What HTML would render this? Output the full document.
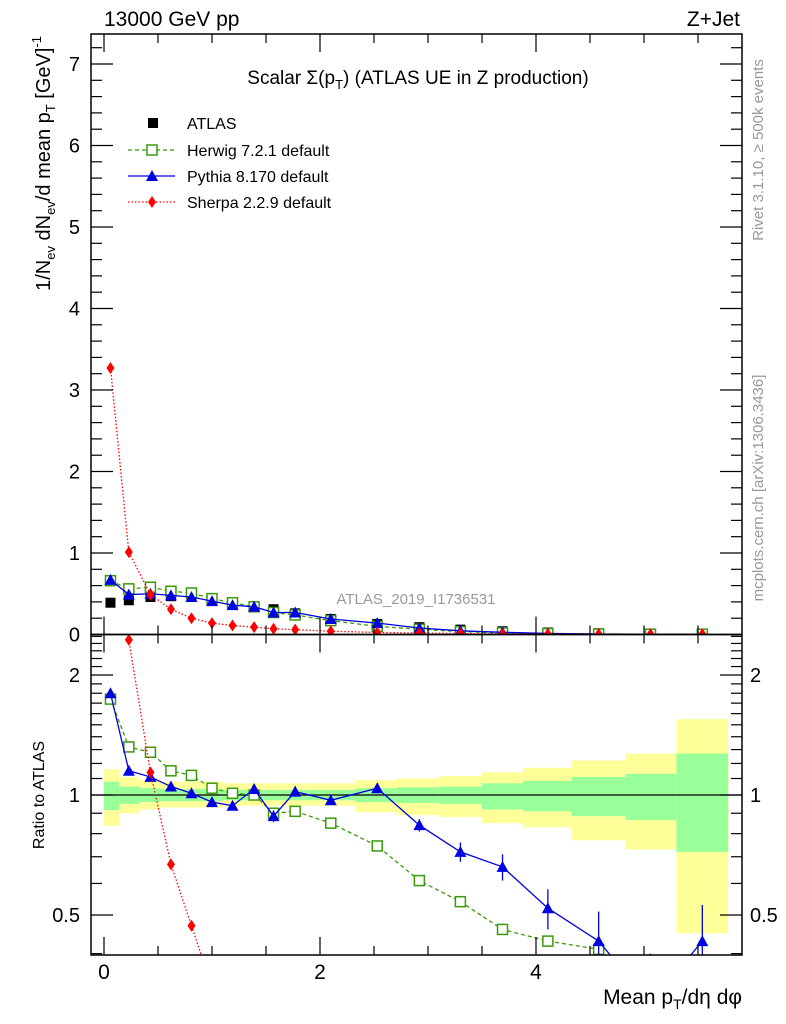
<!DOCTYPE html>
<html><head><meta charset="utf-8"><style>
html,body{margin:0;padding:0;background:#fff;overflow:hidden;width:786px;height:1024px}
svg{display:block;font-family:"Liberation Sans",sans-serif}
</style></head><body>
<svg id="c" width="786" height="1024" xmlns="http://www.w3.org/2000/svg">
<text x="104" y="26" font-size="21">13000 GeV pp</text>
<text x="740" y="26" font-size="21" text-anchor="end">Z+Jet</text>
<text x="418" y="84" font-size="19" text-anchor="middle">Scalar Σ(p<tspan font-size="13" dy="5">T</tspan><tspan dy="-5">) (ATLAS UE in Z production)</tspan></text>
<text x="416" y="604" font-size="15" fill="#999" text-anchor="middle">ATLAS_2019_I1736531</text>
<text transform="translate(763,150) rotate(-90)" font-size="15" fill="#999" text-anchor="middle">Rivet 3.1.10, ≥ 500k events</text>
<text transform="translate(763,488) rotate(-90)" font-size="15" fill="#999" text-anchor="middle">mcplots.cern.ch [arXiv:1306.3436]</text>
<text transform="translate(50,36) rotate(-90)" font-size="20" text-anchor="end">1/N<tspan font-size="13" dy="5">ev</tspan><tspan dy="-5"> dN</tspan><tspan font-size="13" dy="5">ev</tspan><tspan dy="-5">/d mean p</tspan><tspan font-size="13" dy="5">T</tspan><tspan dy="-5"> [GeV]</tspan><tspan font-size="13" dy="-9">-1</tspan></text>
<text transform="translate(44,795) rotate(-90)" font-size="16" text-anchor="middle">Ratio to ATLAS</text>
<text x="742" y="1004" font-size="21" text-anchor="end">Mean p<tspan font-size="14" dy="5">T</tspan><tspan dy="-5">/dη dφ</tspan></text>
<g id="legend" font-size="16">
<g><rect x="148" y="118" width="10" height="10" fill="#000"/><text x="187" y="129">ATLAS</text></g>
<g><line x1="128" y1="150" x2="175" y2="150" stroke="#3a9a0a" stroke-dasharray="4,3" stroke-width="1.3"/><rect x="147" y="145" width="10" height="10" fill="#fff" stroke="#3a9a0a" stroke-width="1.5"/><text x="187" y="156">Herwig 7.2.1 default</text></g>
<g><line x1="128" y1="176" x2="175" y2="176" stroke="#0000e0" stroke-width="1.3"/><polygon points="152,170 158,181 146,181" fill="#0000e0"/><text x="187" y="182">Pythia 8.170 default</text></g>
<g><line x1="128" y1="202" x2="175" y2="202" stroke="#f00" stroke-dasharray="1.5,2" stroke-width="1.3"/><polygon points="152,196 156,202 152,208 148,202" fill="#f00"/><text x="187" y="208">Sherpa 2.2.9 default</text></g>
</g>
</svg>
<script>
const xs=[0.06,0.23,0.43,0.62,0.81,1.0,1.19,1.39,1.57,1.77,2.1,2.53,2.92,3.3,3.69,4.11,4.58,5.06,5.54];
const edges=[0,0.14,0.33,0.52,0.71,0.9,1.1,1.29,1.48,1.67,1.86,2.33,2.71,3.1,3.5,3.88,4.33,4.83,5.3,5.78];
const atlas=[0.39,0.42,0.46,0.47,0.46,0.43,0.38,0.34,0.31,0.26,0.19,0.13,0.09,0.06,0.04,0.025,0.015,0.012,0.01];
const herwig=[0.66,0.56,0.58,0.53,0.51,0.44,0.39,0.34,0.27,0.24,0.17,0.10,0.065,0.035,0.02,0.011,0.006,0.004,0.003];
const pythia=[0.67,0.49,0.5,0.48,0.46,0.41,0.36,0.34,0.27,0.27,0.19,0.14,0.08,0.045,0.027,0.013,0.006,0.003,0.004];
const sherpa=[3.27,1.01,0.49,0.31,0.2,0.14,0.11,0.09,0.07,0.06,0.04,0.025,0.018,0.012,0.008,0.006,0.005,0.004,0.004];
const rHerwig=[1.74,1.32,1.28,1.15,1.12,1.04,1.01,1.0,0.9,0.91,0.85,0.745,0.61,0.54,0.46,0.43,0.41,0.3,0.3];
const rPythia=[1.80,1.15,1.11,1.05,1.01,0.96,0.94,1.035,0.885,1.02,0.97,1.04,0.84,0.72,0.66,0.52,0.43,0.3,0.43];
const rPythiaErr=[0.04,0.02,0.02,0.02,0.02,0.02,0.02,0.03,0.03,0.03,0.02,0.03,0.03,0.04,0.05,0.06,0.08,0.1,0.1];
const rSherpa=[8.4,2.45,1.14,0.67,0.47,0.33,0.2,0.15,0.12,0.1,0.1,0.1,0.1,0.1,0.1,0.1,0.1,0.1,0.1];
const yelHi=[1.16,1.11,1.09,1.08,1.08,1.08,1.07,1.07,1.07,1.07,1.07,1.09,1.10,1.115,1.14,1.17,1.22,1.27,1.55];
const yelLo=[0.836,0.9,0.92,0.93,0.93,0.93,0.94,0.94,0.94,0.94,0.94,0.905,0.89,0.88,0.85,0.83,0.77,0.73,0.45];
const grnHi=[1.08,1.05,1.04,1.035,1.035,1.035,1.03,1.03,1.03,1.03,1.03,1.04,1.045,1.05,1.07,1.085,1.11,1.13,1.27];
const grnLo=[0.917,0.95,0.96,0.965,0.965,0.965,0.97,0.97,0.97,0.97,0.97,0.96,0.955,0.95,0.92,0.91,0.885,0.865,0.72];
const topTicks=[0,1,2,3,4,5,6,7];
const xTicks=[0,2,4];
const rTicks=[0.5,1,2];

const NS="http://www.w3.org/2000/svg";
const svg=document.getElementById('c');
const L=91,R=742,T=34,M=634.5,B=955;
const X=v=>104+v*108;
const Y=v=>634.5-v*81.5;
const RY=v=>795-120*Math.log2(v);
function el(tag,attrs,parent){const e=document.createElementNS(NS,tag);for(const k in attrs)e.setAttribute(k,attrs[k]);(parent||svg).appendChild(e);return e;}

const defs=el('defs',{});
const c1=el('clipPath',{id:'ct'},defs);el('rect',{x:L,y:T,width:R-L,height:M-T},c1);
const c2=el('clipPath',{id:'cr'},defs);el('rect',{x:L,y:M,width:R-L,height:B-M},c2);

const bands=el('g',{'clip-path':'url(#cr)'});


for(let i=0;i<xs.length;i++){
  const x0=X(edges[i]),x1=X(edges[i+1]);
  const y=el('rect',{x:x0,y:RY(yelHi[i]),width:x1-x0,height:RY(yelLo[i])-RY(yelHi[i]),fill:'#ffff99'},bands);
  
  
  const g=el('rect',{x:x0,y:RY(grnHi[i]),width:x1-x0,height:RY(grnLo[i])-RY(grnHi[i]),fill:'#99ff99'},bands);
  
  
}
const one=el('line',{x1:L,x2:R,y1:RY(1),y2:RY(1),stroke:'#000','stroke-width':1.3});



function series(parent,vals,yf,color,dash,marker,name){
  const g=el('g',{},parent);
  
  
  const pts=vals.map((v,i)=>X(xs[i])+','+yf(v)).join(' ');
  el('polyline',{points:pts,fill:'none',stroke:color,'stroke-width':1.3,'stroke-dasharray':dash||'none'},g);
  vals.forEach((v,i)=>{
    const x=X(xs[i]),y=yf(v);let m;
    if(marker==='sq')m=el('rect',{x:x-5,y:y-5,width:10,height:10,fill:'#fff',stroke:color,'stroke-width':1.5},g);
    else if(marker==='tri')m=el('polygon',{points:`${x},${y-6} ${x+6},${y+5} ${x-6},${y+5}`,fill:color},g);
    else m=el('polygon',{points:`${x},${y-6} ${x+4},${y} ${x},${y+6} ${x-4},${y}`,fill:color},g);
    
    
  });
  return g;
}
const topPlot=el('g',{'clip-path':'url(#ct)'});


const ag=el('g',{},topPlot);


atlas.forEach((v,i)=>{const m=el('rect',{x:X(xs[i])-5,y:Y(v)-5,width:10,height:10,fill:'#000'},ag);

});
series(topPlot,herwig,Y,'#3a9a0a','4,3','sq','herwig-series');
series(topPlot,pythia,Y,'#0000e0','','tri','pythia-series');
series(topPlot,sherpa,Y,'#f00','1.5,2','dia','sherpa-series');

const rat=el('g',{'clip-path':'url(#cr)'});


series(rat,rHerwig,RY,'#3a9a0a','4,3','sq','herwig-ratio');
const pr=series(rat,rPythia,RY,'#0000e0','','tri','pythia-ratio');
rPythia.forEach((v,i)=>{const x=X(xs[i]);const e=el('line',{x1:x,x2:x,y1:RY(v+rPythiaErr[i]),y2:Math.min(RY(Math.max(v-rPythiaErr[i],0.05)),B+20),stroke:'#0000e0','stroke-width':1.3},pr);

});
series(rat,rSherpa,RY,'#f00','1.5,2','dia','sherpa-ratio');

const fr=el('g',{fill:'none',stroke:'#000','stroke-width':1.5});


el('rect',{x:L,y:T,width:R-L,height:M-T},fr);
el('rect',{x:L,y:M,width:R-L,height:B-M},fr);

const tk=el('g',{stroke:'#000','stroke-width':1.2});


for(let k=0;k<=36;k++){const v=k*0.2;const y=Y(v);if(y<T)break;const maj=k%5===0;const len=maj?22:11;
el('line',{x1:L,x2:L+len,y1:y,y2:y},tk);el('line',{x1:R,x2:R-len,y1:y,y2:y},tk);}
for(let k=0;k<=11;k++){const v=k*0.5;const x=X(v);const maj=k%4===0;const len=maj?18:9;
el('line',{x1:x,x2:x,y1:T,y2:T+len},tk);el('line',{x1:x,x2:x,y1:M,y2:M-len},tk);el('line',{x1:x,x2:x,y1:M,y2:M+len},tk);el('line',{x1:x,x2:x,y1:B,y2:B-len},tk);}
[0.4,0.5,0.6,0.7,0.8,0.9,1,1.1,1.2,1.3,1.4,1.5,1.6,1.7,1.8,1.9,2,2.1,2.2,2.3,2.4,2.5].forEach(v=>{const y=RY(v);if(y<M||y>B)return;const maj=rTicks.includes(v);const len=maj?22:11;
el('line',{x1:L,x2:L+len,y1:y,y2:y},tk);el('line',{x1:R,x2:R-len,y1:y,y2:y},tk);});

topTicks.forEach(v=>{const t=el('text',{x:80,y:Y(v)+7,'font-size':20,'text-anchor':'end'});t.textContent=v;

});
xTicks.forEach(v=>{const t=el('text',{x:X(v),y:979,'font-size':21,'text-anchor':'middle'});t.textContent=v;

});
rTicks.forEach(v=>{const a=el('text',{x:80,y:RY(v)+7,'font-size':20,'text-anchor':'end'});a.textContent=v;


const b=el('text',{x:750,y:RY(v)+7,'font-size':20});b.textContent=v;

});
</script>
</body></html>
